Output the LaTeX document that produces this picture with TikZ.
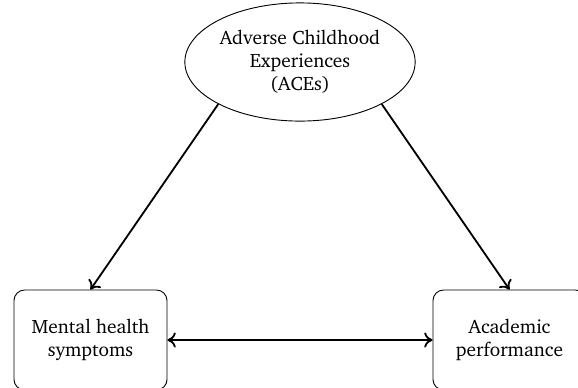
\documentclass[tikz,border=0pt]{standalone}
\usepackage[T1]{fontenc}
\usepackage{charter}
\usetikzlibrary{shapes.geometric, arrows.meta, positioning}
\tikzset{
	factor/.style ={ellipse, draw=black, line width=0.6pt, minimum width=152pt, minimum height=78pt, inner sep=0pt, align=center},
	outcome/.style={rectangle, rounded corners=7pt, draw=black, line width=0.6pt, minimum width=101pt, minimum height=66pt, inner sep=0pt, align=center},
	link/.style   ={-{To[length=5.5pt, width=10pt]}, line width=1.2pt},
	biglink/.style={{To[length=5.5pt, width=10pt]}-{To[length=5.5pt, width=10pt]}, line width=1.2pt},
}

\begin{document}
\begin{tikzpicture}[x=0.66pt, y=-0.66pt, font=\fontsize{12.8}{15.2}\selectfont]
	% page frame
	\useasboundingbox (0,0) rectangle (578,387);
	\clip (0,0) rectangle (578,387);
	% nodes
	\node[factor] (aces) at (300,62) {Adverse Childhood\\Experiences\\(ACEs)};
	\node[outcome] (mental) at (90.5,340) {Mental health\\symptoms};
	\node[outcome] (academic) at (509.5,340) {Academic\\performance};
	% paths
	\draw[link] (aces.south west) -- (mental.north);
	\draw[link] (aces.south east) -- (academic.north);
	\draw[biglink] (mental.east) -- (academic.west);
\end{tikzpicture}
\end{document}
